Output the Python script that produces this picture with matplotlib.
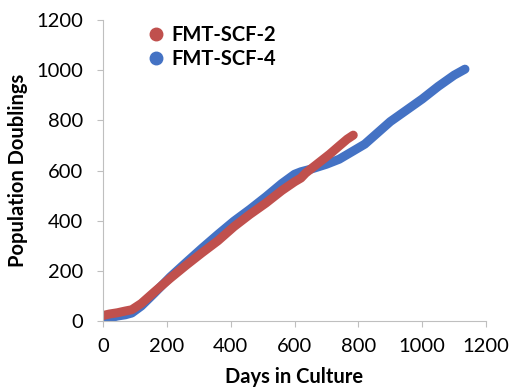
import matplotlib.pyplot as plt
from matplotlib.lines import Line2D

plt.rcParams['font.family'] = ['Lato', 'DejaVu Sans']

# FMT-SCF-2 (red)
days_2 = [0, 20, 45, 70, 90, 120, 160, 210, 260, 310, 360, 410, 460, 510, 560, 600, 620, 635, 650, 680, 710, 740, 765, 784]
pd_2 = [22, 28, 33, 40, 45, 70, 115, 170, 222, 272, 320, 376, 425, 470, 520, 555, 570, 590, 605, 635, 665, 698, 725, 741]

# FMT-SCF-4 (blue)
days_4 = [0, 20, 45, 70, 90, 120, 160, 210, 260, 310, 360, 410, 460, 510, 560, 600, 620, 650, 700, 740, 780, 820, 860, 900, 950, 1000, 1050, 1100, 1134]
pd_4 = [0, 12, 20, 25, 32, 60, 110, 175, 233, 290, 345, 398, 445, 495, 548, 585, 595, 605, 625, 645, 675, 705, 750, 795, 840, 885, 935, 980, 1004]

red = '#c0504d'
blue = '#4472c4'

fig = plt.figure(figsize=(5.1, 3.92), dpi=100)
ax = fig.add_axes([0.202, 0.181, 0.751, 0.768])

ax.plot(days_4, pd_4, color=blue, lw=6.5, solid_capstyle='round', solid_joinstyle='round')
ax.plot(days_2, pd_2, color=red, lw=6.5, solid_capstyle='round', solid_joinstyle='round')

ax.set_xlim(0, 1200)
ax.set_ylim(0, 1200)
ax.set_xticks(range(0, 1201, 200))
ax.set_yticks(range(0, 1201, 200))

for s in ['top', 'right']:
    ax.spines[s].set_visible(False)
for s in ['left', 'bottom']:
    ax.spines[s].set_color('#bfbfbf')
ax.tick_params(colors='#bfbfbf', labelcolor='black', length=4.5, labelsize=14.5)
ax.tick_params(axis='x', pad=8)
ax.tick_params(axis='y', pad=10)

ax.set_xlabel('Days in Culture', fontsize=14.5, fontweight='bold', labelpad=8)
ax.set_ylabel('Population Doublings', fontsize=14.5, fontweight='bold', labelpad=6)

handles = [Line2D([], [], ls='none', marker='o', ms=9, color=red),
           Line2D([], [], ls='none', marker='o', ms=9, color=blue)]
ax.legend(handles, ['FMT-SCF-2', 'FMT-SCF-4'], loc='upper left', bbox_to_anchor=(0.07, 1.045),
          frameon=False, handlelength=0.8, handletextpad=0.35, labelspacing=0.2,
          prop={'size': 14.5, 'weight': 'bold'})

fig.savefig('out.png')
